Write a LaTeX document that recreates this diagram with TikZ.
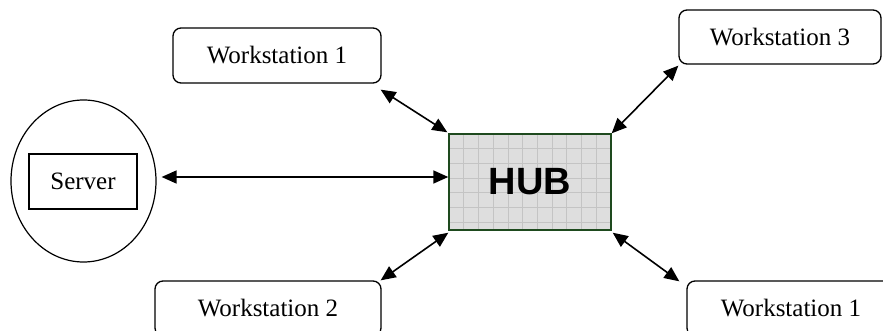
\documentclass[tikz,border=0pt]{standalone}
\usepackage{fontspec}
\setmainfont{Liberation Serif}
\newfontfamily\hubfont{Liberation Sans}
\usetikzlibrary{arrows.meta,shapes.geometric}
\definecolor{hubfill}{HTML}{DEDEDE}
\definecolor{hubgrid}{HTML}{C4C4C4}
\definecolor{hubedge}{HTML}{1E4A1E}
\begin{document}
\begin{tikzpicture}[x=1pt,y=-1pt,
  wsbox/.style={draw,line width=1.3pt,rounded corners=8pt,font=\fontsize{25}{29}\selectfont,inner sep=0pt},
  biarrow/.style={line width=1.6pt,{Triangle[length=15pt,width=13pt]}-{Triangle[length=15pt,width=13pt]}}]
\useasboundingbox (0,0) rectangle (883,331);
\clip (0,0) rectangle (883,331);
% hub
\fill[hubfill] (449,134) rectangle (611,230);
\begin{scope}
\clip (449,134) rectangle (611,230);
\foreach \i in {1,...,11} \draw[hubgrid,line width=0.6pt] (449+14.7*\i,134) -- (449+14.7*\i,230);
\foreach \j in {1,...,6} \draw[hubgrid,line width=0.6pt] (449,134+14.7*\j) -- (611,134+14.7*\j);
\end{scope}
\node[draw=hubedge,line width=1.4pt,minimum width=162pt,minimum height=96pt,inner sep=0pt,
  font=\hubfont\bfseries\fontsize{38}{42}\selectfont] (hub) at (530,182) {HUB};
% workstations
\node[wsbox,minimum width=208pt,minimum height=55pt] (ws1) at (277,55.5) {Workstation 1};
\node[wsbox,minimum width=202pt,minimum height=54pt] (ws3) at (780,37) {Workstation 3};
\node[wsbox,minimum width=226pt,minimum height=55pt] (ws2) at (268,308.5) {Workstation 2};
\node[wsbox,minimum width=208pt,minimum height=55pt] (ws4) at (791,308.5) {Workstation 1};
% server
\node[draw,ellipse,line width=1.2pt,minimum width=145pt,minimum height=162pt,inner sep=0pt] (srvell) at (83.5,181) {};
\node[draw,line width=1.2pt,minimum width=108pt,minimum height=55pt,inner sep=0pt,
  font=\fontsize{25}{29}\selectfont] (srv) at (83,181.5) {Server};
% connectors
\coordinate (sa) at ([shift={(5,-4)}]srvell.east);
\draw[biarrow] (sa) -- (sa -| hub.west);
\draw[biarrow] ([shift={(-1,6)}]ws1.south east) -- ([shift={(-1,-1)}]hub.north west);
\draw[biarrow] ([shift={(0,1)}]ws3.south west) -- (hub.north east);
\draw[biarrow] ([shift={(-1,0)}]ws2.north east) -- ([shift={(0,2)}]hub.south west);
\draw[biarrow] ([shift={(-7,1)}]ws4.north west) -- ([shift={(1,2)}]hub.south east);
\end{tikzpicture}
\end{document}
